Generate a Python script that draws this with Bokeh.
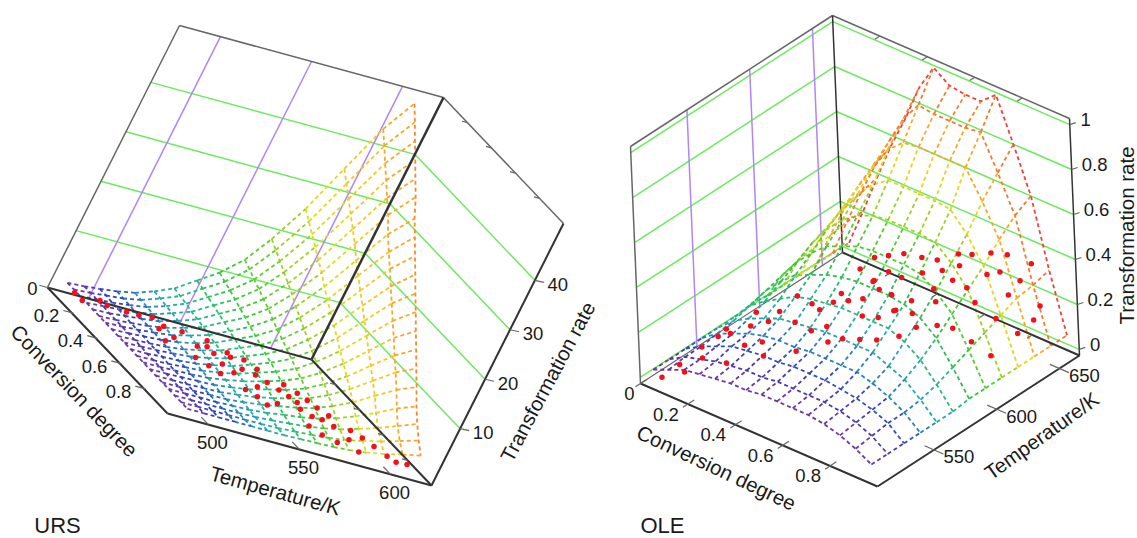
from bokeh.plotting import figure
from bokeh.models import Range1d, ColumnDataSource
from bokeh.core.properties import value
from bokeh.embed import file_html
from bokeh.resources import INLINE

# ---------- URS data ----------
urs_conv = [i / 19 for i in range(20)]
urs_temp = [486, 495, 503, 512, 521, 530, 539, 548, 557, 566, 574, 583, 592, 601, 610]
urs_rate = [
    [.3, .3, .3, .3, .3, .3, .3, .3, .3, .3, .3, .3, .3, .3, .3, .3, .3, .3, .3, .3],
    [.5, .5, .5, .5, .4, .4, .4, .4, .4, .4, .3, .3, .3, .3, .3, .3, .3, .3, .3, .3],
    [.8, .8, .7, .7, .7, .6, .6, .6, .5, .5, .5, .4, .4, .4, .3, .3, .3, .3, .3, .3],
    [1.2, 1.1, 1.1, 1, 1, .9, .9, .8, .7, .7, .6, .6, .5, .5, .4, .4, .3, .3, .3, .3],
    [1.8, 1.7, 1.6, 1.5, 1.4, 1.4, 1.3, 1.2, 1.1, 1, .9, .8, .7, .6, .5, .4, .4, .3, .3, .3],
    [3, 2.9, 2.7, 2.6, 2.4, 2.3, 2.1, 1.9, 1.8, 1.6, 1.5, 1.3, 1.2, 1, .9, .7, .5, .4, .3, .3],
    [4.5, 4.3, 4.1, 3.8, 3.6, 3.4, 3.1, 2.9, 2.7, 2.4, 2.2, 2, 1.8, 1.5, 1.3, 1.1, .8, .6, .4, .3],
    [7, 6.7, 6.3, 6, 5.6, 5.3, 4.8, 4.5, 4.1, 3.8, 3.4, 3.1, 2.7, 2.4, 2, 1.7, 1.3, .9, .6, .4],
    [9.5, 9, 8.6, 8.1, 7.6, 7.1, 6.6, 6.1, 5.6, 5.1, 4.7, 4.2, 3.7, 3.2, 2.8, 2.3, 1.7, 1.2, .8, .5],
    [13, 12.4, 11.7, 11.1, 10.4, 9.8, 9, 8.3, 7.7, 7, 6.4, 5.7, 5.1, 4.4, 3.8, 3.1, 2.3, 1.7, 1.1, .6],
    [18, 17.1, 16.2, 15.3, 14.4, 13.5, 12.4, 11.5, 10.6, 9.7, 8.8, 7.9, 7, 6.1, 5.2, 4.3, 3.2, 2.3, 1.5, .8],
    [25, 23.8, 22.5, 21.3, 20, 18.8, 17.3, 16, 14.8, 13.5, 12.3, 11, 9.8, 8.5, 7.3, 6, 4.5, 3.3, 2.2, 1.2],
    [34, 32.3, 30.6, 28.9, 27.2, 25.5, 23.5, 21.8, 20.1, 18.4, 16.7, 15, 13.3, 11.6, 9.9, 8.2, 6.1, 4.4, 3, 1.8],
    [43, 40.9, 38.7, 36.6, 34.4, 32.3, 29.7, 27.5, 25.4, 23.2, 21.1, 18.9, 16.8, 14.6, 12.5, 10.3, 7.9, 5.7, 4, 2.6],
    [49, 46.6, 44.1, 41.7, 39.2, 36.8, 33.8, 31.4, 28.9, 26.5, 24, 21.6, 19.1, 16.7, 14.2, 11.8, 9.2, 7, 5, 3.3],
]
urs_colors = ["#6a3aa5", "#4d3cae", "#3346b5", "#2a6cb8", "#2a90b5", "#25aaa8", "#28b88a", "#30c060",
              "#3ccc3c", "#66cc30", "#a0d028", "#dcdc20", "#f2c828", "#f5a82a", "#f58a2c"]
urs_pts_conv = [.129, .189, .136, .168, .182, .182, .167, .266, .225, .232, .318, .378, .342, .254, .319, .469,
                .371, .324, .364, .461, .519, .353, .459, .414, .567, .520, .480, .528, .503, .572, .601, .664,
                .709, .614, .553, .769, .721, .654, .603, .655, .716, .760, .703, .766, .803, .871, .928, .797,
                .902, .845, .966, 1.005, .900, .968, 1.005, .998]
urs_pts_temp = [480.4, 480.7, 493.9, 495.8, 505.5, 512.3, 520.6, 517.8, 523.1, 532.7, 522.6, 513.9, 533.8, 545, 540.7, 524.5,
                541, 551.4, 550.6, 539.7, 528.5, 558.7, 550.7, 561.9, 531.7, 542.2, 556.7, 559.9, 570.7, 563.5, 549.7, 539.1,
                542.6, 566.1, 574.8, 544.1, 552.8, 568.1, 577, 579, 565.8, 569.3, 582.2, 574.5, 578.4, 560.3, 563.8, 588,
                580.2, 591.3, 569.6, 578.8, 594.1, 596.8, 599.3, 605.8]
urs_pts_rate = [1.0] * len(urs_pts_conv)

# ---------- OLE data ----------
ole_conv = [.03, .096, .162, .227, .293, .359, .425, .49, .556, .622, .688, .754, .82, .885, .95]
ole_temp = [510, 523, 536, 549, 562, 575, 588, 601, 614, 627, 640, 653, 666]
ole_rate = [
    [.03, .06, .09, .10, .11, .12, .12, .13, .13, .13, .13, .12, .10, .07, .03],
    [.03, .07, .09, .11, .12, .13, .13, .14, .14, .14, .14, .13, .11, .08, .03],
    [.03, .07, .10, .13, .14, .15, .15, .16, .16, .16, .15, .14, .12, .09, .03],
    [.03, .08, .11, .14, .16, .17, .17, .18, .18, .18, .18, .16, .13, .09, .03],
    [.03, .09, .13, .16, .19, .20, .21, .22, .22, .22, .22, .19, .16, .10, .03],
    [.03, .11, .16, .20, .24, .26, .27, .28, .28, .28, .28, .25, .20, .12, .03],
    [.04, .13, .20, .26, .29, .32, .34, .35, .35, .35, .34, .31, .25, .15, .04],
    [.03, .15, .24, .31, .37, .40, .43, .44, .44, .44, .43, .38, .31, .18, .04],
    [.03, .17, .28, .37, .44, .49, .52, .53, .53, .53, .52, .46, .37, .21, .04],
    [.03, .18, .31, .42, .51, .58, .63, .63, .63, .63, .62, .54, .43, .24, .04],
    [.03, .19, .34, .47, .59, .69, .75, .76, .76, .76, .76, .64, .50, .27, .04],
    [.03, .20, .36, .51, .65, .78, .87, .86, .86, .86, .87, .72, .56, .28, .04],
    [.03, .20, .38, .55, .70, .87, .99, .94, .93, .93, .99, .80, .60, .30, .04],
]
ole_colors = ["#6a3aa5", "#4a3cb0", "#3050b8", "#2a80b8", "#25a8a8", "#28b880", "#30c050", "#50cc30",
              "#a0d028", "#e0d820", "#f5a82a", "#f57a30", "#f04040"]
ole_pts_conv = [.099, .094, .136, .127, .082, .082, .074, .102, .207, .183, .124, .084, .151, .273, .215, .140,
                .125, .192, .235, .221, .295, .318, .381, .406, .452, .497, .337, .538, .367, .413, .429, .483,
                .547, .240, .272, .301, .259, .359, .226, .170, .197, .319, .379, .428, .548, .584, .671, .719,
                .815, .178, .261, .258, .306, .358, .316, .351, .481, .506, .546, .441, .497, .432, .426, .593,
                .643, .743, .846, .599, .70, .723, .744, .808, .867, .815, .827, .714, .611]
ole_pts_temp = [504, 519, 515, 531, 539, 552, 560, 558, 535, 554, 570, 582, 579, 552, 562, 590,
                607, 606, 604, 587, 586, 594, 583, 590, 595, 600, 566, 610, 613, 617, 628, 631,
                622, 614, 620, 626, 642, 638, 623, 660, 666, 656, 659, 662, 657, 661, 660, 664,
                665, 647, 654, 643, 638, 638, 654, 664, 656, 665, 652, 656, 647, 640, 627, 630,
                633, 629, 625, 659, 651, 657, 659, 657, 661, 665, 650, 654, 651]
ole_pts_rate = [.05] * 41 + [.15, .15, .15, .25, .25, .30, .30, .30] + [.05] * 7 + [.15, .15, .15] + [.05] * 8 \
    + [.05, .25, .25, .15, .25, .15, .05, .05, .05, .15]

# ---------- tick labels ----------
conv_ticks = [0, 0.2, 0.4, 0.6, 0.8]
urs_temp_ticks = [500, 550, 600]
ole_temp_ticks = [550, 600, 650]
urs_rate_ticks = [10, 20, 30, 40]
ole_rate_ticks = [0, 0.2, 0.4, 0.6, 0.8, 1]

FONT = value("Liberation Sans")
DARK, GREY, GREEN, PURPLE, RED = "#333333", "#666666", "#6bea5c", "#b184f7", "#f2101c"

p = figure(width=1137, height=538, output_backend="svg", toolbar_location=None,
           x_range=Range1d(0, 1137), y_range=Range1d(538, 0), min_border=0,
           outline_line_color=None, background_fill_color="white", border_fill_color="white")
p.xaxis.visible = False
p.yaxis.visible = False
p.xgrid.visible = False
p.ygrid.visible = False


def projector(origin, cv, tv, zv, tr, zr):
    """Oblique view of the 3D box: conversion, temperature and rate onto the page."""
    def f(c, t, z):
        a = (t - tr[0]) / (tr[1] - tr[0])
        b = (z - zr[0]) / (zr[1] - zr[0])
        return (origin[0] + c * cv[0] + a * tv[0] + b * zv[0],
                origin[1] + c * cv[1] + a * tv[1] + b * zv[1])
    return f


def seg(f, a, b, color, width):
    pa, pb = f(*a), f(*b)
    p.line([pa[0], pb[0]], [pa[1], pb[1]], line_color=color, line_width=width)


def labels(xs, ys, texts, size=18.5, angle=0.0):
    p.text(xs, ys, text=texts, text_font=FONT, text_font_size=f"{size}px", text_color="#1a1a1a",
           text_align="center", text_baseline="middle", angle=angle)


def surface(f, conv, temp, rate, colors):
    xs, ys, cols = [], [], []
    for i, t in enumerate(temp):
        pts = [f(c, t, rate[i][j]) for j, c in enumerate(conv)]
        xs.append([q[0] for q in pts])
        ys.append([q[1] for q in pts])
        cols.append(colors[i])
    for j, c in enumerate(conv):
        for i in range(len(temp) - 1):
            a, b = f(c, temp[i], rate[i][j]), f(c, temp[i + 1], rate[i + 1][j])
            xs.append([a[0], b[0]])
            ys.append([a[1], b[1]])
            cols.append(colors[i])
    p.multi_line(xs="xs", ys="ys", line_color="c", line_width=1.8, line_dash="4 3",
                 source=ColumnDataSource(dict(xs=xs, ys=ys, c=cols)))


def dots(f, cs, ts, zs):
    pts = [f(c, t, z) for c, t, z in zip(cs, ts, zs)]
    p.scatter([q[0] for q in pts], [q[1] for q in pts], size=5.5, fill_color=RED, line_color=None)


# ---------- URS panel ----------
ut, uz = (477.5, 622.5), (-1.5, 51.5)
fu = projector((47, 287), (120, 126), (264, 72), (132, -262), ut, uz)
for z in urs_rate_ticks:
    seg(fu, (0, ut[0], z), (0, ut[1], z), GREEN, 1.5)
    seg(fu, (0, ut[1], z), (1, ut[1], z), GREEN, 1.5)
for t in urs_temp_ticks:
    seg(fu, (0, t, uz[0]), (0, t, uz[1]), PURPLE, 1.5)
seg(fu, (0, ut[0], uz[0]), (0, ut[0], uz[1]), GREY, 1.5)
seg(fu, (0, ut[0], uz[1]), (0, ut[1], uz[1]), GREY, 1.5)
seg(fu, (0, ut[1], uz[1]), (1, ut[1], uz[1]), GREY, 1.5)
surface(fu, urs_conv, urs_temp, urs_rate, urs_colors)
seg(fu, (0, ut[0], uz[0]), (1, ut[0], uz[0]), DARK, 2)
seg(fu, (1, ut[0], uz[0]), (1, ut[1], uz[0]), DARK, 2)
seg(fu, (1, ut[1], uz[0]), (1, ut[1], uz[1]), DARK, 2)
seg(fu, (0, ut[0], uz[0]), (0, ut[1], uz[0]), DARK, 2)
seg(fu, (0, ut[1], uz[0]), (1, ut[1], uz[0]), DARK, 2)
seg(fu, (0, ut[1], uz[0]), (0, ut[1], uz[1]), DARK, 2.5)
for c in conv_ticks:
    seg(fu, (c, ut[0] - 4.5, uz[0]), (c, ut[0] + 1, uz[0]), GREY, 1.2)
    if c:
        seg(fu, (c, ut[1] - 3, uz[0]), (c, ut[1], uz[0]), GREY, 1.2)
        seg(fu, (c, ut[1] - 3, uz[1]), (c, ut[1], uz[1]), GREY, 1.2)
for t in urs_temp_ticks:
    seg(fu, (0.94, t, uz[0]), (1, t, uz[0]), GREY, 1.2)
for z in urs_rate_ticks:
    a = fu(1, ut[1], z)
    p.line([a[0], a[0] + 9], [a[1], a[1] + 2], line_color=GREY, line_width=1.2)
dots(fu, urs_pts_conv, urs_pts_temp, urs_pts_rate)

q = [fu(c, ut[0], uz[0]) for c in conv_ticks]
labels([a[0] - (15 if c == 0 else 25) for a, c in zip(q, conv_ticks)],
       [a[1] + (1 if c == 0 else 3) for a, c in zip(q, conv_ticks)],
       [str(c) for c in conv_ticks])
q = [fu(1, t, uz[0]) for t in urs_temp_ticks]
labels([a[0] + 4 for a in q], [a[1] + 18 for a in q], [str(t) for t in urs_temp_ticks])
q = [fu(1, ut[1], z) for z in urs_rate_ticks]
labels([a[0] + 23 for a in q], [a[1] + 4 for a in q], [str(z) for z in urs_rate_ticks])
labels([74], [390], ["Conversion degree"], 20.5, -0.81)
labels([275], [490], ["Temperature/K"], 20.5, -0.27)
labels([547], [381], ["Transformation rate"], 20.5, 1.08)
labels([57], [525], ["URS"], 22)

# ---------- OLE panel ----------
ot, oz = (505, 666), (-0.027, 1.027)
fo = projector((640, 383), (237, 103), (202, -131), (-10, -237), ot, oz)
for z in ole_rate_ticks:
    seg(fo, (0, ot[0], z), (0, ot[1], z), GREEN, 1.5)
    seg(fo, (0, ot[1], z), (1, ot[1], z), GREEN, 1.5)
for t in ole_temp_ticks:
    seg(fo, (0, t, oz[0]), (0, t, oz[1]), PURPLE, 1.5)
seg(fo, (0, ot[0], oz[0]), (0, ot[0], oz[1]), GREY, 1.5)
seg(fo, (0, ot[0], oz[1]), (0, ot[1], oz[1]), GREY, 1.5)
seg(fo, (0, ot[1], oz[1]), (1, ot[1], oz[1]), GREY, 1.5)
seg(fo, (0, ot[1], oz[0]), (0, ot[1], oz[1]), DARK, 1.5)
seg(fo, (0, ot[0], oz[0]), (0, ot[1], oz[0]), GREY, 1.2)
surface(fo, ole_conv, ole_temp, ole_rate, ole_colors)
seg(fo, (0, ot[0], oz[0]), (1, ot[0], oz[0]), DARK, 2)
seg(fo, (1, ot[0], oz[0]), (1, ot[1], oz[0]), DARK, 2)
seg(fo, (1, ot[1], oz[0]), (1, ot[1], oz[1]), DARK, 1.5)
seg(fo, (0, ot[1], oz[0]), (1, ot[1], oz[0]), DARK, 2)
for c in conv_ticks:
    seg(fo, (c, ot[0] - 4, oz[0]), (c, ot[0] + 5, oz[0]), GREY, 1.2)
    if c:
        seg(fo, (c, ot[1] - 4, oz[0]), (c, ot[1], oz[0]), GREY, 1.2)
        seg(fo, (c, ot[1] - 4, oz[1]), (c, ot[1], oz[1]), GREY, 1.2)
for t in ole_temp_ticks:
    seg(fo, (0.96, t, oz[0]), (1.04, t, oz[0]), GREY, 1.2)
for z in ole_rate_ticks:
    a = fo(1, ot[1], z)
    p.line([a[0], a[0] + 6], [a[1], a[1] - 2], line_color=GREY, line_width=1.2)
dots(fo, ole_pts_conv, ole_pts_temp, ole_pts_rate)

q = [fo(c, ot[0], oz[0]) for c in conv_ticks]
labels([a[0] - (11 if c == 0 else 22) for a, c in zip(q, conv_ticks)],
       [a[1] + 10 for a in q], [str(c) for c in conv_ticks])
q = [fo(1, t, oz[0]) for t in ole_temp_ticks]
labels([a[0] + 25 for a in q], [a[1] + 7 for a in q], [str(t) for t in ole_temp_ticks])
q = [fo(1, ot[1], z) for z in ole_rate_ticks]
labels([a[0] + (16 if z in (0, 1) else 23) for a, z in zip(q, ole_rate_ticks)], [a[1] - 5 for a in q],
       [str(z) for z in ole_rate_ticks])
labels([716], [467], ["Conversion degree"], 20.5, -0.44)
labels([1041], [435], ["Temperature/K"], 20.5, 0.62)
labels([1126], [235], ["Transformation rate"], 20.5, 1.5708)
labels([662], [525], ["OLE"], 22)

open("out.html", "w").write(file_html(p, INLINE))
